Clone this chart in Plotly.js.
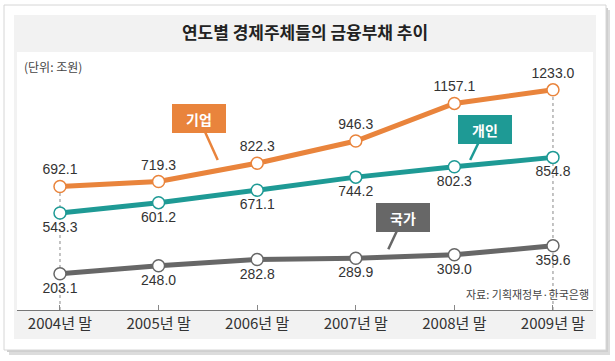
<!DOCTYPE html>
<html><head><meta charset="utf-8">
<script src="https://cdn.plot.ly/plotly-3.0.1.min.js"></script>
<style>html,body{margin:0;padding:0;background:#fff;}#chart{width:615px;height:361px;}</style>
</head><body><div id="chart"></div>
<script>
const years = ['2004년 말','2005년 말','2006년 말','2007년 말','2008년 말','2009년 말'];
const corporate = [692.1, 719.3, 822.3, 946.3, 1157.1, 1233.0];
const personal = [543.3, 601.2, 671.1, 744.2, 802.3, 854.8];
const government = [203.1, 248.0, 282.8, 289.9, 309.0, 359.6];
const seriesNames = ['기업','개인','국가'];

const W = 615, H = 361, L = 17, R = 593, T = 52, B = 310;
const px = x => (x - L) / (R - L);
const py = y => (B - y) / (B - T);
const ORANGE = '#e9843c', TEAL = '#1e9a95', GRAY = '#676767';
const numFont = 'Liberation Sans, Arial, Noto Sans CJK KR, sans-serif';
const krFont = 'Noto Sans CJK KR, sans-serif';

function tr(y, color, pos, name){
  return {x: years, y: y, name: name, type:'scatter', mode:'lines+markers+text',
    line:{color:color, width:5},
    marker:{size:12, color:'#fff', line:{color:color, width:1.5}},
    text: y.map(v => v.toFixed(1)), textposition: pos,
    textfont:{family:numFont, size:14, color:'#333'}, cliponaxis:false, hoverinfo:'skip'};
}
const data = [tr(government, GRAY, 'bottom center', seriesNames[2]),
              tr(personal, TEAL, 'bottom center', seriesNames[1]),
              tr(corporate, ORANGE, 'top center', seriesNames[0])];

function rect(x0,y0,x1,y1,fill,line){
  return {type:'rect', xref:'paper', yref:'paper', x0:px(x0), x1:px(x1), y0:py(y1), y1:py(y0),
    fillcolor:fill, line:{color:line||fill, width: line?1:0}, layer:'below'};
}
const shapes = [
  rect(9,10,610,355,'#dcdcdc'),
  rect(7,8,608,352,'#cfcfcf'),
  rect(4,5,606,350,'#ffffff','#d6d6d6'),
  rect(14,15,596,339,'#f2f2f2'),
  rect(17,52,593,310,'#ffffff'),
  {type:'line', xref:'x', yref:'y', x0:years[0], x1:years[0], y0:0, y1:corporate[0],
   line:{color:'#888', width:1, dash:'dot'}, layer:'below'},
  {type:'line', xref:'x', yref:'y', x0:years[5], x1:years[5], y0:0, y1:corporate[5],
   line:{color:'#888', width:1, dash:'dot'}, layer:'below'}
];

function callout(text, xi, yv, ax, ay, color){
  return {x:xi, y:yv, xref:'x', yref:'y', text:'<b>'+text+'</b>', showarrow:true,
    ax:ax, ay:ay, arrowhead:0, arrowwidth:2.5, arrowcolor:color, bgcolor:color,
    bordercolor:color, borderpad:4, width:44, height:19,
    font:{family:krFont, size:14, color:'#fff'}};
}
const annotations = [
  callout(seriesNames[0], 1.6, 840, -19, -42, ORANGE),
  callout(seriesNames[1], 4.16, 840, 15, -31, TEAL),
  callout(seriesNames[2], 3.33, 340, 15, -32, GRAY),
  {xref:'paper', yref:'paper', x:px(22), y:py(66), xanchor:'left', yanchor:'middle', showarrow:false,
   text:'(단위: 조원)', font:{family:krFont, size:12, color:'#444'}},
  {xref:'paper', yref:'paper', x:px(591), y:py(294), xanchor:'right', yanchor:'middle', showarrow:false,
   text:'자료: 기획재정부·한국은행', font:{family:krFont, size:11, color:'#444'}}
];

const layout = {
  width:W, height:H, margin:{l:L, r:W-R, t:T, b:H-B},
  paper_bgcolor:'#fff', plot_bgcolor:'rgba(0,0,0,0)', showlegend:false,
  title:{text:'<b>연도별 경제주체들의 금융부채 추이</b>', x:0.5, xref:'paper', y:1-33/H, yref:'container',
    xanchor:'center', yanchor:'middle', font:{family:krFont, size:17, color:'#222'}},
  xaxis:{type:'category', range:[-0.436, 5.406], showgrid:false, zeroline:false,
    showline:true, linecolor:'#777', linewidth:1, ticks:'inside', ticklen:5, tickcolor:'#888',
    tickfont:{family:krFont, size:15, color:'#333'}, fixedrange:true},
  yaxis:{range:[0,1445], visible:false, fixedrange:true},
  shapes:shapes, annotations:annotations
};
Plotly.newPlot('chart', data, layout, {staticPlot:true});
</script></body></html>
